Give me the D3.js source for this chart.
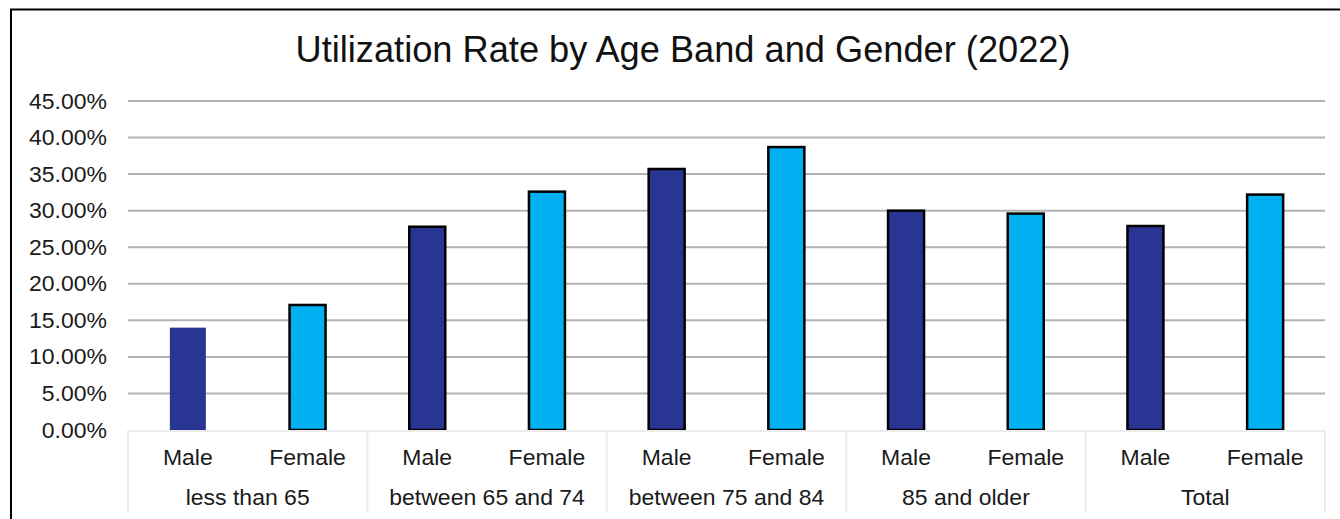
<!DOCTYPE html>
<html><head><meta charset="utf-8">
<script src="https://cdn.jsdelivr.net/npm/d3@7"></script>
<style>body{margin:0;background:#fff;}svg{display:block;font-family:"Liberation Sans",Arial,sans-serif;}</style>
</head><body>
<svg id="c" width="1340" height="519"></svg>
<script>
const groups = ["less than 65","between 65 and 74","between 75 and 84","85 and older","Total"];
const genders = ["Male","Female"];
const maleValues = [0.140, 0.278, 0.357, 0.300, 0.279];
const femaleValues = [0.171, 0.326, 0.387, 0.296, 0.322];
const yTicks = [0,0.05,0.10,0.15,0.20,0.25,0.30,0.35,0.40,0.45];
const title = "Utilization Rate by Age Band and Gender (2022)";

const svg = d3.select("#c");
const L = 128, R = 1325, T = 101, B = 430;
const stretch = 1.045;
function widen(sel){ sel.each(function(){ const w=this.getComputedTextLength(); d3.select(this).attr("textLength",w*stretch).attr("lengthAdjust","spacingAndGlyphs"); }); }

svg.append("rect").attr("x",11).attr("y",9.5).attr("width",1340).attr("height",520)
  .attr("fill","#fff").attr("stroke","#000").attr("stroke-width",2);

svg.append("text").attr("x",683).attr("y",62).attr("text-anchor","middle")
  .attr("font-size",36).attr("fill","#111").text(title)
  .attr("textLength",775).attr("lengthAdjust","spacingAndGlyphs");

const y = d3.scaleLinear().domain([0,0.45]).range([B,T]);
const x0 = d3.scaleBand().domain(groups).range([L,R]).padding(0);
const x1 = d3.scaleBand().domain(genders).range([0,x0.bandwidth()]).padding(0);

const yAxis = d3.axisLeft(y).tickValues(yTicks).tickFormat(d3.format(".2%")).tickSize(0).tickPadding(21);
const ga = svg.append("g").attr("transform",`translate(${L},0)`).call(yAxis);
ga.select(".domain").remove();
ga.selectAll("text").attr("font-size",22).attr("fill","#1a1a1a").attr("font-family","Liberation Sans, Arial, sans-serif").call(widen);

svg.append("g").selectAll("line").data(yTicks.filter(d=>d>0)).join("line")
  .attr("x1",L).attr("x2",R).attr("y1",d=>y(d)).attr("y2",d=>y(d))
  .attr("stroke","#b3b3b3").attr("stroke-width",2);

const data = [];
groups.forEach((g,i)=>{
  data.push({g, s:"Male", v:maleValues[i], i});
  data.push({g, s:"Female", v:femaleValues[i], i});
});
const color = {Male:"#283593", Female:"#00b0f0"};
const bw = 36;
svg.append("g").selectAll("rect").data(data).join("rect")
  .attr("x",d=>x0(d.g)+x1(d.s)+x1.bandwidth()/2-bw/2)
  .attr("width",bw)
  .attr("y",d=>y(d.v))
  .attr("height",d=>y(0)-y(d.v))
  .attr("fill",d=>color[d.s])
  .attr("stroke",d=>(d.i===0&&d.s==="Male")?"none":"#000")
  .attr("stroke-width",2.5);

// category axis box
const cb = svg.append("g");
const bottom = 512;
cb.append("line").attr("x1",L).attr("x2",R).attr("y1",B+1).attr("y2",B+1).attr("stroke","#ececec").attr("stroke-width",2);
cb.selectAll("line.sep").data(groups.concat(["__end"])).join("line").attr("class","sep")
  .attr("x1",d=>d==="__end"?R:x0(d)).attr("x2",d=>d==="__end"?R:x0(d))
  .attr("y1",B).attr("y2",bottom).attr("stroke","#ececec").attr("stroke-width",2);
cb.selectAll("text.s").data(data).join("text").attr("class","s")
  .attr("x",d=>x0(d.g)+x1(d.s)+x1.bandwidth()/2).attr("y",465)
  .attr("text-anchor","middle").attr("font-size",22).attr("fill","#1a1a1a").text(d=>d.s).call(widen);
cb.selectAll("text.g").data(groups).join("text").attr("class","g")
  .attr("x",d=>x0(d)+x0.bandwidth()/2).attr("y",505)
  .attr("text-anchor","middle").attr("font-size",22).attr("fill","#1a1a1a").text(d=>d).call(widen);
</script>
</body></html>
